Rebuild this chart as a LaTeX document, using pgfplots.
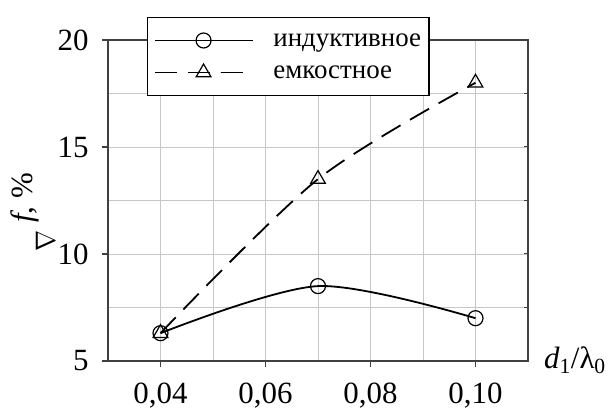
\documentclass[border=0pt]{standalone}
\usepackage{graphicx}
\usepackage{fontspec}
\setmainfont{Liberation Serif}
\usepackage{pgfplots}
\pgfplotsset{compat=1.18}
\begin{document}
\begin{tikzpicture}
\useasboundingbox (-108bp,-56bp) rectangle (504bp,361bp);
\begin{axis}[
  scale only axis, width=420bp, height=321bp,
  xmin=0.03, xmax=0.11, ymin=5, ymax=20,
  xtick={0.04,0.06,0.08,0.10},
  ytick={5,10,15,20},
  minor xtick={0.03,0.05,0.07,0.09,0.11},
  minor ytick={7.5,12.5,17.5},
  grid=both,
  axis line style={black!75, line width=1.2bp},
  xtick pos=bottom, ytick pos=left, tick align=outside,
  major tick length=6bp, minor tick length=0pt,
  tick style={black!75, line width=1.2bp},
  major grid style={black!22, line width=0.9bp},
  minor grid style={black!22, line width=0.9bp},
  tick label style={font=\fontsize{31}{34}\selectfont},
  xticklabel style={yshift=-12bp, /pgf/number format/.cd, fixed, fixed zerofill, precision=2, use comma, assume math mode=true, /tikz/.cd},
  yticklabel style={xshift=-10bp, /pgf/number format/assume math mode=true},
  xlabel={\textit{d}\textsubscript{1}/λ\textsubscript{0}},
  xlabel style={at={(axis description cs:1.03,-0.022)}, anchor=base west, font=\fontsize{31}{34}\selectfont},
  ylabel={\raisebox{-22bp}{\resizebox{21bp}{19bp}{$\nabla$}}\hspace{8bp}\textit{f}, \%},
  ylabel style={at={(axis description cs:-0.179,0.463)}, anchor=base, font=\fontsize{31}{34}\selectfont},
  legend style={at={(axis description cs:0.093,1.072)}, anchor=north west, draw=black, line width=1.2bp, fill=white, font=\fontsize{27}{30}\selectfont, inner xsep=6bp, inner ysep=10bp, row sep=6bp, cells={anchor=west}, nodes={text height=17bp, text depth=5bp, inner ysep=2bp}},
  legend image code/.code={\draw[#1, mark repeat=2, mark phase=2] plot coordinates {(0bp,0bp) (49bp,0bp) (98bp,0bp)}; \path (116bp,0bp);},
]
\addplot[black, line width=1.8bp, smooth, mark=o, mark size=7.5bp, mark options={solid, fill=white, line width=1.2bp}] coordinates {(0.04,6.3) (0.07,8.5) (0.10,7.0)};
\addlegendentry{индуктивное}
\addplot[black, line width=1.8bp, smooth, dash pattern=on 22bp off 11bp, mark=triangle, mark size=8.5bp, mark options={solid, fill=white, line width=1.2bp}] coordinates {(0.04,6.3) (0.07,13.5) (0.10,18.0)};
\addlegendentry{емкостное}
\end{axis}
\begin{axis}[
  scale only axis, width=420bp, height=321bp,
  xmin=0.03, xmax=0.11, ymin=5, ymax=20,
  hide x axis, axis y line*=right,
  ytick={7.5,10,12.5,15,17.5}, yticklabels={},
  tick align=inside, major tick length=4bp,
  tick style={black!75, line width=1bp},
  y axis line style={draw=none},
]
\end{axis}
\end{tikzpicture}
\end{document}
